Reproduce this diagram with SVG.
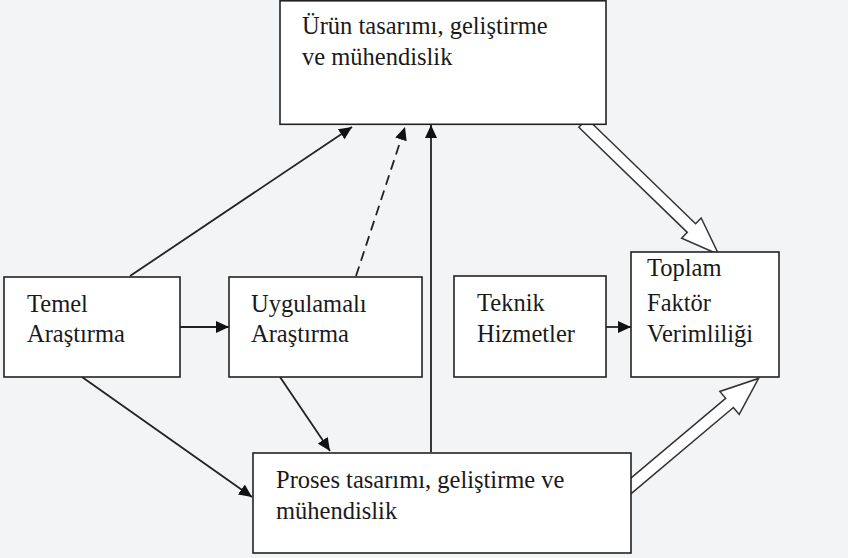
<svg xmlns="http://www.w3.org/2000/svg" width="848" height="558" viewBox="0 0 848 558">
  <style>
    .box { fill: #ffffff; stroke: #222222; stroke-width: 1.6; }
    .lbl { font-family: "Liberation Serif", "DejaVu Serif", serif; font-size: 24.5px; fill: #1a1a1a; }
    .conn { fill: none; stroke: #222222; stroke-width: 1.8; }
    .dash { stroke-dasharray: 10 6; }
    .block { fill: #ffffff; stroke: #333333; stroke-width: 1.5; stroke-linejoin: miter; }
  </style>
  <defs>
    <marker id="arrow" markerUnits="userSpaceOnUse" markerWidth="14" markerHeight="12" refX="13" refY="6" orient="auto">
      <path d="M0,0 L13,6 L0,12 z" fill="#111111"/>
    </marker>
  </defs>

  <rect x="0" y="0" width="848" height="558" fill="#f3f4f6"/>

  <g id="connectors">
    <line class="conn" x1="130" y1="276" x2="352" y2="127" marker-end="url(#arrow)"/>
    <line class="conn dash" x1="356" y1="276" x2="405" y2="127" marker-end="url(#arrow)"/>
    <line class="conn" x1="431" y1="452" x2="431" y2="125" marker-end="url(#arrow)"/>
    <line class="conn" x1="180" y1="327" x2="229" y2="327" marker-end="url(#arrow)"/>
    <line class="conn" x1="606" y1="327" x2="631" y2="327" marker-end="url(#arrow)"/>
    <line class="conn" x1="280" y1="377" x2="330" y2="451" marker-end="url(#arrow)"/>
    <line class="conn" x1="82" y1="377" x2="252" y2="497" marker-end="url(#arrow)"/>
    <!-- hollow block arrows into Toplam Faktör Verimliliği -->
    <path class="block" transform="translate(583,123) rotate(44.1)" d="M0,-6 L151,-6 L151,-14 L189,0 L151,14 L151,6 L0,6 z"/>
    <path class="block" transform="translate(625.5,490.5) rotate(-40.1)" d="M0,-6 L136,-6 L136,-15 L174,0 L136,15 L136,6 L0,6 z"/>
  </g>

  <g id="urun">
    <rect class="box" x="280" y="0.8" width="326" height="123.5"/>
    <text class="lbl" x="302" y="34">Ürün tasarımı, geliştirme</text>
    <text class="lbl" x="302" y="65">ve mühendislik</text>
  </g>

  <g id="temel">
    <rect class="box" x="4" y="277" width="176" height="100"/>
    <text class="lbl" x="27" y="312">Temel</text>
    <text class="lbl" x="27" y="342">Araştırma</text>
  </g>

  <g id="uygulamali">
    <rect class="box" x="229" y="277" width="193" height="100"/>
    <text class="lbl" x="251" y="312">Uygulamalı</text>
    <text class="lbl" x="251" y="342">Araştırma</text>
  </g>

  <g id="teknik">
    <rect class="box" x="454" y="276" width="152" height="101"/>
    <text class="lbl" x="477" y="311">Teknik</text>
    <text class="lbl" x="477" y="342">Hizmetler</text>
  </g>

  <g id="toplam">
    <rect class="box" x="631" y="252" width="148" height="125"/>
    <text class="lbl" x="647" y="276">Toplam</text>
    <text class="lbl" x="647" y="311">Faktör</text>
    <text class="lbl" x="647" y="342">Verimliliği</text>
  </g>

  <g id="proses">
    <rect class="box" x="253" y="453" width="378" height="100"/>
    <text class="lbl" x="276" y="488">Proses tasarımı, geliştirme ve</text>
    <text class="lbl" x="276" y="519">mühendislik</text>
  </g>
</svg>
